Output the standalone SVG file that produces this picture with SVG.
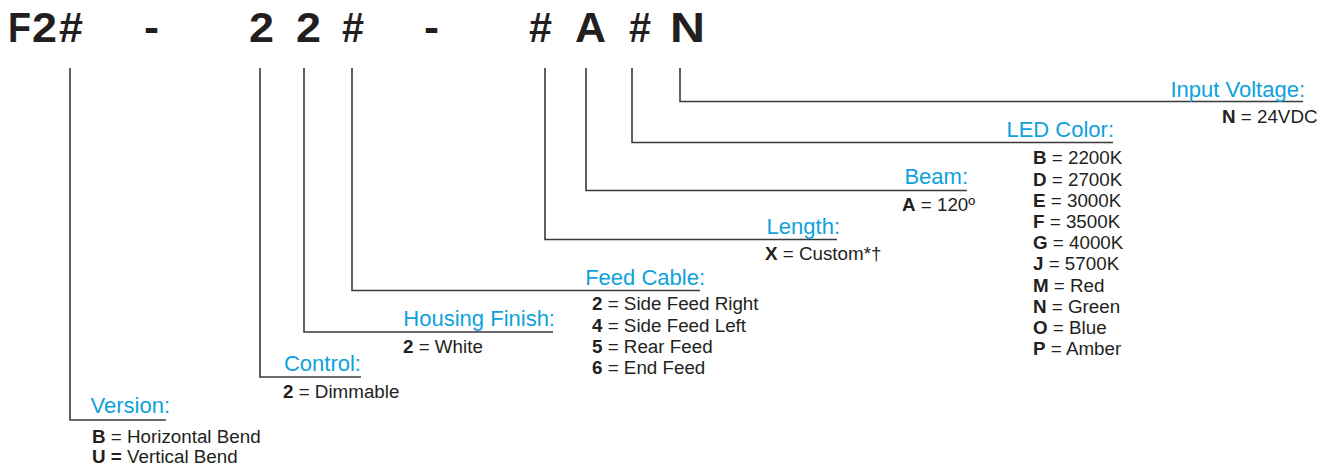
<svg xmlns="http://www.w3.org/2000/svg" width="1327" height="469" viewBox="0 0 1327 469">
<style>
.hd{font-family:"Liberation Sans",Arial,sans-serif;font-weight:bold;font-size:43px;fill:#231f20}
.lb{font-family:"Liberation Sans",Arial,sans-serif;font-size:22px;fill:#0ea2dc;text-anchor:end}
.it{font-family:"Liberation Sans",Arial,sans-serif;font-size:18.8px;fill:#231f20}
.it tspan.b{font-weight:bold}
.ln{fill:none;stroke:#3a3a3a;stroke-width:1.6}
</style>
<rect width="1327" height="469" fill="#ffffff"/>
<g id="header">
<text class="hd" x="8" y="42" textLength="23" lengthAdjust="spacingAndGlyphs">F</text>
<text class="hd" x="32" y="42" textLength="25" lengthAdjust="spacingAndGlyphs">2</text>
<text class="hd" x="59" y="42" textLength="24" lengthAdjust="spacingAndGlyphs">#</text>
<text class="hd" x="144" y="42" textLength="15" lengthAdjust="spacingAndGlyphs">-</text>
<text class="hd" x="249" y="42" textLength="25" lengthAdjust="spacingAndGlyphs">2</text>
<text class="hd" x="296" y="42" textLength="25" lengthAdjust="spacingAndGlyphs">2</text>
<text class="hd" x="342" y="42" textLength="22" lengthAdjust="spacingAndGlyphs">#</text>
<text class="hd" x="424" y="42" textLength="15" lengthAdjust="spacingAndGlyphs">-</text>
<text class="hd" x="529" y="42" textLength="23" lengthAdjust="spacingAndGlyphs">#</text>
<text class="hd" x="575" y="42" textLength="31" lengthAdjust="spacingAndGlyphs">A</text>
<text class="hd" x="629" y="42" textLength="22" lengthAdjust="spacingAndGlyphs">#</text>
<text class="hd" x="670" y="42" textLength="35" lengthAdjust="spacingAndGlyphs">N</text>
</g>
<g id="connectors">
<path class="ln" d="M70,68 V420 H166"/>
<path class="ln" d="M260,68 V377 H361"/>
<path class="ln" d="M304,68 V332 H553"/>
<path class="ln" d="M352,68 V290.5 H700"/>
<path class="ln" d="M545,68 V239.5 H837"/>
<path class="ln" d="M586,68 V190.5 H967"/>
<path class="ln" d="M632,68 V142.5 H1113"/>
<path class="ln" d="M680,68 V101.5 H1303"/>
</g>
<g id="version">
<text class="lb" x="170" y="413">Version:</text>
<text class="it" x="92" y="443"><tspan class="b">B</tspan> = Horizontal Bend</text>
<text class="it" x="92" y="463"><tspan class="b">U =</tspan> Vertical Bend</text>
</g>
<g id="control">
<text class="lb" x="361" y="371">Control:</text>
<text class="it" x="283" y="398"><tspan class="b">2</tspan> = Dimmable</text>
</g>
<g id="housing-finish">
<text class="lb" x="555" y="326">Housing Finish:</text>
<text class="it" x="403" y="353"><tspan class="b">2</tspan> = White</text>
</g>
<g id="feed-cable">
<text class="lb" x="705" y="285">Feed Cable:</text>
<text class="it" x="592" y="310"><tspan class="b">2</tspan> = Side Feed Right</text>
<text class="it" x="592" y="332"><tspan class="b">4</tspan> = Side Feed Left</text>
<text class="it" x="592" y="353"><tspan class="b">5</tspan> = Rear Feed</text>
<text class="it" x="592" y="374"><tspan class="b">6</tspan> = End Feed</text>
</g>
<g id="length">
<text class="lb" x="840" y="234">Length:</text>
<text class="it" x="765" y="260"><tspan class="b">X</tspan> = Custom*†</text>
</g>
<g id="beam">
<text class="lb" x="968" y="184">Beam:</text>
<text class="it" x="902" y="211"><tspan class="b">A</tspan> = 120º</text>
</g>
<g id="led-color">
<text class="lb" x="1114" y="137">LED Color:</text>
<text class="it" x="1033" y="164"><tspan class="b">B</tspan> = 2200K</text>
<text class="it" x="1033" y="186"><tspan class="b">D</tspan> = 2700K</text>
<text class="it" x="1033" y="207"><tspan class="b">E</tspan> = 3000K</text>
<text class="it" x="1033" y="228"><tspan class="b">F</tspan> = 3500K</text>
<text class="it" x="1033" y="249"><tspan class="b">G</tspan> = 4000K</text>
<text class="it" x="1033" y="270"><tspan class="b">J</tspan> = 5700K</text>
<text class="it" x="1033" y="292"><tspan class="b">M</tspan> = Red</text>
<text class="it" x="1033" y="313"><tspan class="b">N</tspan> = Green</text>
<text class="it" x="1033" y="334"><tspan class="b">O</tspan> = Blue</text>
<text class="it" x="1033" y="355"><tspan class="b">P</tspan> = Amber</text>
</g>
<g id="input-voltage">
<text class="lb" x="1305" y="97">Input Voltage:</text>
<text class="it" x="1222" y="123"><tspan class="b">N</tspan> = 24VDC</text>
</g>
</svg>
